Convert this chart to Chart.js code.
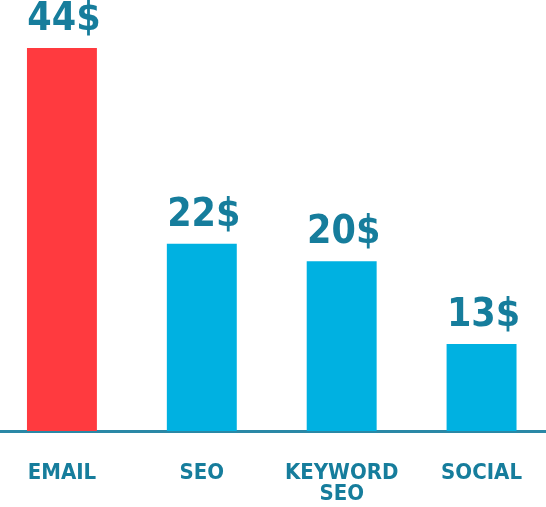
<!DOCTYPE html>
<html>
<head>
<meta charset="utf-8">
<script src="https://cdn.jsdelivr.net/npm/chart.js@4.4.1/dist/chart.umd.min.js"></script>
<style>
  html, body { margin: 0; padding: 0; background: #ffffff; overflow: hidden; }
  #wrap { position: relative; left: -8px; width: 562px; height: 507px; }
</style>
</head>
<body>
<div id="wrap"><canvas id="costChart" width="562" height="507"></canvas></div>
<script>
const categories = ["EMAIL", "SEO", ["KEYWORD", "SEO"], "SOCIAL"];
// bar heights as drawn in the picture (the 13$ bar is drawn shorter than its label)
const barValues = [44, 21.5, 19.5, 10];
const priceLabels = ["44$", "22$", "20$", "13$"];
const barColors = ["#ff3a3f", "#00b1e1", "#00b1e1", "#00b1e1"];

const FONT = '"DejaVu Sans Condensed", "DejaVu Sans", sans-serif';
const TEXT_COLOR = "#167d9c";

const valueLabelPlugin = {
  id: "valueLabels",
  afterDatasetsDraw(chart) {
    const ctx = chart.ctx;
    const meta = chart.getDatasetMeta(0);
    ctx.save();
    ctx.font = "bold 39px " + FONT;
    ctx.fillStyle = TEXT_COLOR;
    ctx.textAlign = "center";
    ctx.textBaseline = "alphabetic";
    meta.data.forEach((bar, i) => {
      ctx.fillText(priceLabels[i], bar.x + 2, bar.y - 18);
    });
    ctx.restore();
  },
};

new Chart(document.getElementById("costChart"), {
  type: "bar",
  data: {
    labels: categories,
    datasets: [
      {
        data: barValues,
        backgroundColor: barColors,
        borderWidth: 0,
        barPercentage: 1,
        categoryPercentage: 0.5,
      },
    ],
  },
  options: {
    responsive: false,
    animation: false,
    layout: {
      padding: { top: 48, left: 0, right: 0, bottom: 0 },
    },
    plugins: {
      legend: { display: false },
      tooltip: { enabled: false },
    },
    scales: {
      x: {
        grid: { display: false, drawTicks: false },
        border: { display: true, color: "#2a88a6", width: 3 },
        ticks: {
          color: TEXT_COLOR,
          padding: 32,
          maxRotation: 0,
          autoSkip: false,
          font: { size: 22, family: FONT, weight: "bold", lineHeight: "21px" },
        },
        afterFit(scale) {
          scale.height = 76;
        },
      },
      y: {
        display: false,
        min: 0,
        max: 44,
      },
    },
  },
  plugins: [valueLabelPlugin],
});
</script>
</body>
</html>
